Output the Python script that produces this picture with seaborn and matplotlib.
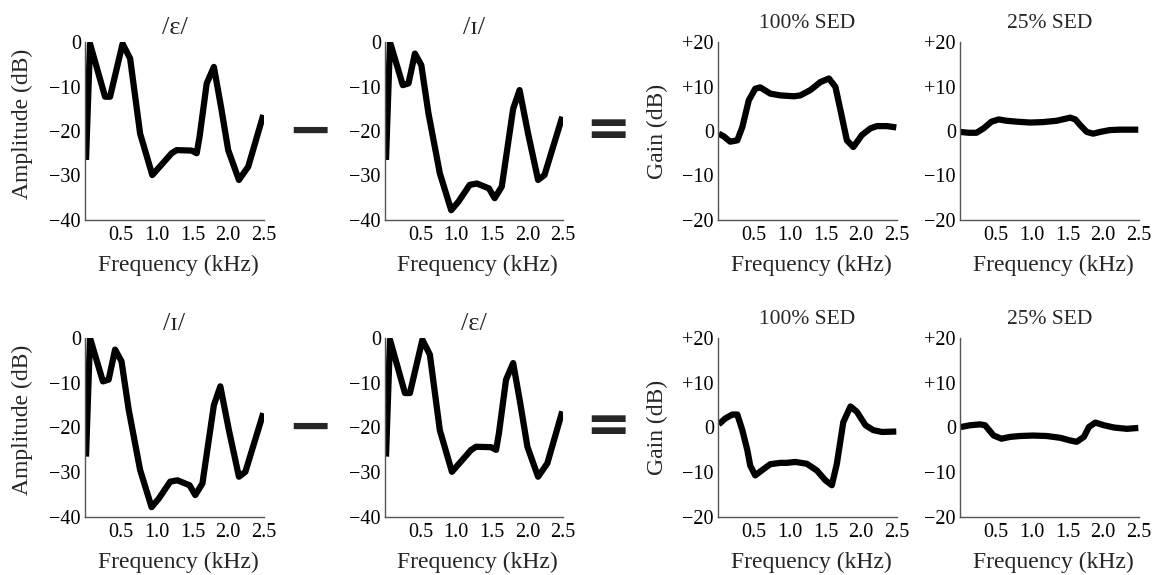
import numpy as np
import pandas as pd
import matplotlib
matplotlib.use("Agg")
import matplotlib.pyplot as plt
import seaborn as sns

# ---------------- data ----------------
eh_freq = [0.014, 0.07, 0.28, 0.35, 0.525, 0.63, 0.77, 0.94, 1.21, 1.28, 1.49, 1.56,
           1.60, 1.70, 1.80, 1.90, 2.00, 2.15, 2.28, 2.49]
eh_amp = [-26.5, -0.4, -12.3, -12.3, -0.4, -3.7, -20.6, -29.9, -25.0, -24.3, -24.4, -25.0,
          -21.3, -9.3, -5.6, -14.6, -24.3, -31.0, -28.0, -16.4]

ih_freq = [0.014, 0.07, 0.25, 0.33, 0.42, 0.51, 0.61, 0.77, 0.93, 1.03, 1.19, 1.29,
           1.46, 1.54, 1.64, 1.80, 1.89, 2.01, 2.15, 2.24, 2.49]
ih_amp = [-26.5, 0.0, -9.7, -9.3, -2.6, -5.2, -16.0, -29.5, -37.8, -35.9, -32.1, -31.8,
          -32.9, -35.1, -32.5, -15.0, -10.8, -20.6, -31.0, -29.9, -16.8]

gain_freq_a = [0.01, 0.08, 0.17, 0.27, 0.34, 0.43, 0.52, 0.59, 0.73, 0.87, 1.06, 1.15,
               1.29, 1.43, 1.55, 1.64, 1.71, 1.80, 1.89, 2.01, 2.13, 2.22, 2.36, 2.49]
gain_eh_ih_100 = [-0.6, -1.2, -2.4, -2.1, 0.9, 6.9, 9.5, 9.8, 8.4, 8.0, 7.8, 8.0,
                  9.2, 11.0, 11.8, 9.9, 4.7, -2.1, -3.6, -0.9, 0.6, 1.1, 1.1, 0.8]

gain_freq_b = [0.0, 0.12, 0.23, 0.33, 0.44, 0.54, 0.65, 0.79, 0.98, 1.16, 1.35, 1.54,
               1.61, 1.68, 1.77, 1.86, 1.96, 2.09, 2.23, 2.49]
gain_eh_ih_25 = [-0.2, -0.4, -0.4, 0.6, 2.1, 2.6, 2.3, 2.1, 1.9, 2.0, 2.3, 3.0,
                 2.6, 1.3, -0.2, -0.6, -0.2, 0.2, 0.3, 0.3]

gain_freq_c = [0.01, 0.10, 0.20, 0.27, 0.34, 0.41, 0.45, 0.52, 0.61, 0.73, 0.87, 0.96,
               1.08, 1.24, 1.38, 1.50, 1.59, 1.66, 1.75, 1.85, 1.94, 2.06, 2.17, 2.29, 2.49]
gain_ih_eh_100 = [0.7, 2.0, 2.9, 2.9, -0.6, -5.1, -8.5, -10.7, -9.6, -8.2, -7.9, -7.9,
                  -7.7, -8.1, -9.6, -11.8, -12.9, -8.1, 1.2, 4.7, 3.5, 0.5, -0.6, -1.0, -0.9]

gain_freq_d = [0.01, 0.14, 0.28, 0.35, 0.47, 0.58, 0.70, 0.84, 1.02, 1.21, 1.40, 1.54,
               1.63, 1.73, 1.80, 1.89, 2.01, 2.15, 2.33, 2.49]
gain_ih_eh_25 = [0.1, 0.5, 0.7, 0.5, -1.8, -2.5, -2.1, -1.9, -1.8, -1.9, -2.3, -2.9,
                 -3.2, -2.1, 0.1, 1.1, 0.5, 0.0, -0.3, -0.1]

x_ticks = [0.5, 1.0, 1.5, 2.0, 2.5]
x_ticklabels = ["0.5", "1.0", "1.5", "2.0", "2.5"]
amp_ticks = [0, -10, -20, -30, -40]
amp_ticklabels = ["0", "\u221210", "\u221220", "\u221230", "\u221240"]
gain_ticks = [20, 10, 0, -10, -20]
gain_ticklabels = ["+20", "+10", "0", "\u221210", "\u221220"]

titles_row1 = ["/\u025b/", "/\u026a/", "100% SED", "25% SED"]
titles_row2 = ["/\u026a/", "/\u025b/", "100% SED", "25% SED"]

# ---------------- style ----------------
sns.set_theme(style="white")
plt.rcParams['font.family'] = ['Liberation Serif', 'DejaVu Serif']
plt.rcParams['axes.unicode_minus'] = True

fig = plt.figure(figsize=(11.59, 5.75), dpi=100)

W, H = 1159, 575
col_px = [(85, 264), (385, 563), (718, 897), (960, 1139)]
row_px = [(42, 220), (338, 517)]


def make_ax(c, r):
    x0, x1 = col_px[c]
    y0, y1 = row_px[r]
    return fig.add_axes([x0 / W, 1 - y1 / H, (x1 - x0) / W, (y1 - y0) / H])


panels = [
    [(eh_freq, eh_amp, 'amp'), (ih_freq, ih_amp, 'amp'),
     (gain_freq_a, gain_eh_ih_100, 'gain'), (gain_freq_b, gain_eh_ih_25, 'gain')],
    [(ih_freq, ih_amp, 'amp'), (eh_freq, eh_amp, 'amp'),
     (gain_freq_c, gain_ih_eh_100, 'gain'), (gain_freq_d, gain_ih_eh_25, 'gain')],
]
titles = [titles_row1, titles_row2]

for r in range(2):
    for c in range(4):
        ax = make_ax(c, r)
        fx, fy, kind = panels[r][c]
        df = pd.DataFrame({"Frequency": fx, "Value": fy})
        sns.lineplot(data=df, x="Frequency", y="Value", ax=ax, color="black",
                     linewidth=4.5, estimator=None, solid_joinstyle='round',
                     solid_capstyle='butt')
        ax.set_xlim(0, 2.5)
        ax.set_xticks(x_ticks)
        ax.set_xticklabels(x_ticklabels)
        if kind == 'amp':
            ax.set_ylim(-40, 0)
            ax.set_yticks(amp_ticks)
            ax.set_yticklabels(amp_ticklabels)
        else:
            ax.set_ylim(-20, 20)
            ax.set_yticks(gain_ticks)
            ax.set_yticklabels(gain_ticklabels)
        for s in ['top', 'right']:
            ax.spines[s].set_visible(False)
        for s in ['left', 'bottom']:
            ax.spines[s].set_color('#555555')
            ax.spines[s].set_linewidth(1.0)
        ax.tick_params(axis='both', length=0, labelsize=14.5, colors='black')
        ax.tick_params(axis='x', pad=4)
        ax.tick_params(axis='y', pad=3)
        ax.set_xlabel("Frequency (kHz)", fontsize=17)
        ax.xaxis.set_label_coords(0.52, -0.195)
        if c == 0:
            ax.set_ylabel("Amplitude (dB)", fontsize=17)
            ax.yaxis.set_label_coords(-0.29, 0.54)
        elif c == 2:
            ax.set_ylabel("Gain (dB)", fontsize=17)
            ax.yaxis.set_label_coords(-0.28, 0.5)
        else:
            ax.set_ylabel("")
        if kind == 'amp':
            ax.set_title(titles[r][c], fontsize=19, pad=6)
        else:
            ax.set_title(titles[r][c], fontsize=15.5, pad=10)
        ax.patch.set_alpha(0)

# operators between panels
for r, yc in enumerate([132, 428]):
    fig.text(310 / W, 1 - yc / H, "\u2212", fontsize=39, fontweight='bold',
             ha='center', va='center', family=['DejaVu Sans'])
    fig.text(608 / W, 1 - (yc - 1) / H, "=", fontsize=39, fontweight='bold',
             ha='center', va='center', family=['DejaVu Sans'])

fig.savefig("out.png", dpi=100)
